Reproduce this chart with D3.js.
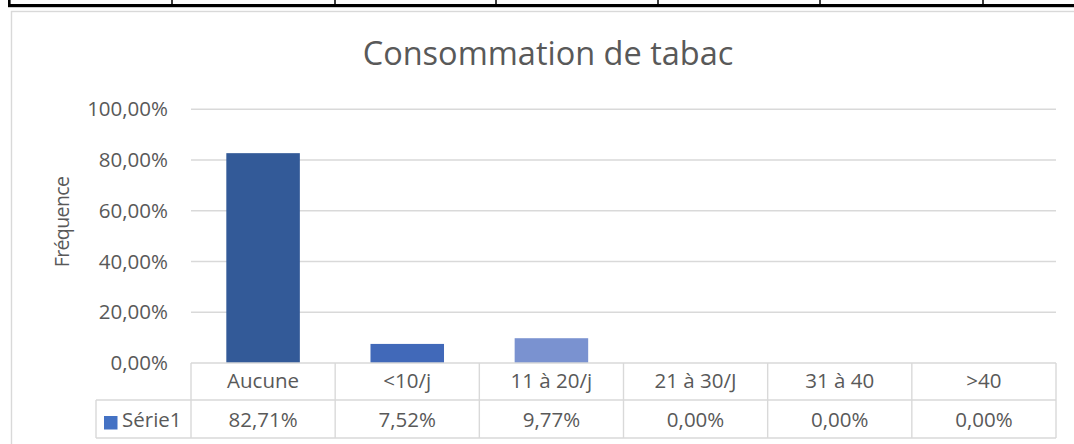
<!DOCTYPE html>
<html>
<head>
<meta charset="utf-8">
<script src="https://cdn.jsdelivr.net/npm/d3@7"></script>
<style>
  body { margin: 0; background: #fff; }
  svg { display: block; font-family: "Open Sans", sans-serif; }
</style>
</head>
<body>
<div></div>
<script>
const categories = ["Aucune", "<10/j", "11 à 20/j", "21 à 30/J", "31 à 40", ">40"];
const values = [0.8271, 0.0752, 0.0977, 0, 0, 0];
const valueLabels = ["82,71%", "7,52%", "9,77%", "0,00%", "0,00%", "0,00%"];
const yTicks = [0, 0.2, 0.4, 0.6, 0.8, 1];
const barColors = ["#335a98", "#4169b9", "#7a92d0", "#4472c4", "#4472c4", "#4472c4"];
const seriesName = "Série1";
const topTableCols = [172, 335, 496, 658, 820, 983];

const width = 1074, height = 444;
const textColor = "#595959";
const gridColor = "#d9d9d9";

const svg = d3.select('div')
    .append('svg')
    .attr('width', width)
    .attr('height', height);

// bit of the word table above the chart
svg.append('rect')
    .attr('x', 8).attr('y', 4)
    .attr('width', width - 8).attr('height', 3.2)
    .attr('fill', '#000');
svg.append('rect')
    .attr('x', 8).attr('y', 0)
    .attr('width', 2.6).attr('height', 7)
    .attr('fill', '#000');
svg.selectAll('.tcol')
    .data(topTableCols)
    .join('line')
    .attr('x1', d => d).attr('x2', d => d)
    .attr('y1', 0).attr('y2', 5)
    .attr('stroke', '#000')
    .attr('stroke-width', 1.5);

// chart area border
svg.append('rect')
    .attr('x', 11.5).attr('y', 11.5)
    .attr('width', width + 20).attr('height', height + 20)
    .attr('fill', 'none')
    .attr('stroke', gridColor)
    .attr('stroke-width', 1.4);

const plot = { left: 191, right: 1056, top: 109.3, bottom: 363 };

const x = d3.scaleBand()
    .domain(categories)
    .range([plot.left, plot.right])
    .paddingInner(0.49)
    .paddingOuter(0.245);

const y = d3.scaleLinear()
    .domain([0, 1])
    .range([plot.bottom, plot.top]);

// title
svg.append('text')
    .attr('x', 548).attr('y', 65)
    .attr('text-anchor', 'middle')
    .attr('font-size', 32.5)
    .attr('fill', textColor)
    .text('Consommation de tabac');

// gridlines
svg.append('g')
    .selectAll('line')
    .data(yTicks.filter(d => d > 0))
    .join('line')
    .attr('x1', plot.left).attr('x2', plot.right)
    .attr('y1', d => y(d)).attr('y2', d => y(d))
    .attr('stroke', gridColor)
    .attr('stroke-width', 1.4);

// y axis labels
const yAxis = svg.append('g')
    .attr('transform', `translate(${plot.left},0)`)
    .call(d3.axisLeft(y)
        .tickValues(yTicks)
        .tickSize(0)
        .tickPadding(23)
        .tickFormat(d => d3.format('.2f')(d * 100).replace('.', ',') + '%'));
yAxis.select('.domain').remove();
yAxis.selectAll('text')
    .attr('font-family', '"Open Sans", sans-serif')
    .attr('font-size', 20.5)
    .attr('fill', textColor);

// axis title
svg.append('text')
    .attr('transform', 'translate(69,222) rotate(-90)')
    .attr('text-anchor', 'middle')
    .attr('font-size', 19.5)
    .attr('letter-spacing', -0.6)
    .attr('fill', textColor)
    .text('Fréquence');

// bars
svg.append('g')
    .selectAll('rect')
    .data(values)
    .join('rect')
    .attr('x', (d, i) => x(categories[i]))
    .attr('y', d => y(d))
    .attr('width', x.bandwidth())
    .attr('height', d => y(0) - y(d))
    .attr('fill', (d, i) => barColors[i]);

// data table
const step = x.step();
const row1 = { top: 363, bottom: 400 };
const row2 = { top: 400, bottom: 438 };
const legendLeft = 96;
const tbl = svg.append('g')
    .attr('fill', 'none')
    .attr('stroke', gridColor)
    .attr('stroke-width', 1.4);

tbl.append('line')
    .attr('x1', plot.left).attr('x2', plot.right)
    .attr('y1', row1.top).attr('y2', row1.top);
tbl.append('line')
    .attr('x1', legendLeft).attr('x2', plot.right)
    .attr('y1', row2.top).attr('y2', row2.top);
tbl.append('line')
    .attr('x1', legendLeft).attr('x2', plot.right)
    .attr('y1', row2.bottom).attr('y2', row2.bottom);
tbl.append('line')
    .attr('x1', legendLeft).attr('x2', legendLeft)
    .attr('y1', row2.top).attr('y2', row2.bottom);
tbl.selectAll('.vcol')
    .data(d3.range(categories.length + 1))
    .join('line')
    .attr('x1', i => plot.left + i * step)
    .attr('x2', i => plot.left + i * step)
    .attr('y1', row1.top).attr('y2', row2.bottom);

svg.append('g')
    .selectAll('text')
    .data(categories)
    .join('text')
    .attr('x', d => x(d) + x.bandwidth() / 2)
    .attr('y', 388)
    .attr('text-anchor', 'middle')
    .attr('font-size', 20.5)
    .attr('fill', textColor)
    .text(d => d);

svg.append('g')
    .selectAll('text')
    .data(valueLabels)
    .join('text')
    .attr('x', (d, i) => x(categories[i]) + x.bandwidth() / 2)
    .attr('y', 427)
    .attr('text-anchor', 'middle')
    .attr('font-size', 20.5)
    .attr('fill', textColor)
    .text(d => d);

// legend key
svg.append('rect')
    .attr('x', 104).attr('y', 416)
    .attr('width', 13.5).attr('height', 13.5)
    .attr('fill', '#4472c4');
svg.append('text')
    .attr('x', 122).attr('y', 427)
    .attr('font-size', 20.5)
    .attr('fill', textColor)
    .text(seriesName);
</script>
</body>
</html>
